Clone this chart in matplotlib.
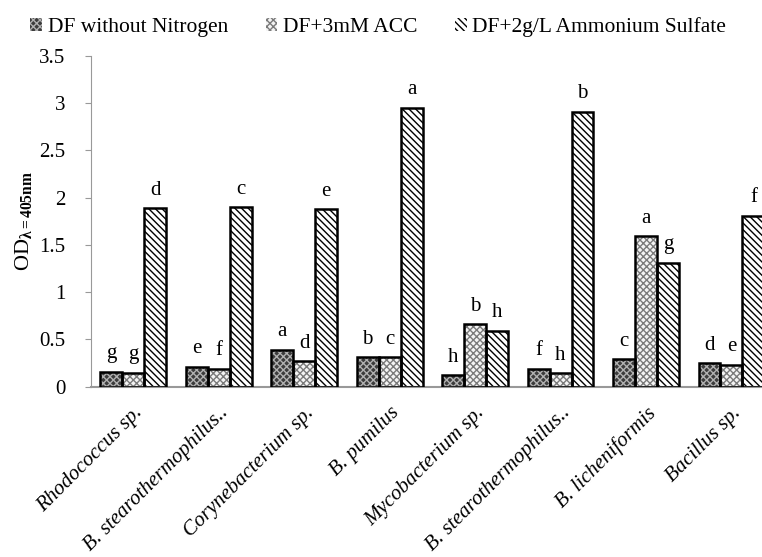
import numpy as np
import matplotlib as mpl
mpl.use('Agg')
from matplotlib import pyplot as plt
from matplotlib.patches import Patch
import matplotlib.transforms as mtransforms

# data
strains = ['Rhodococcus sp.', 'B. stearothermophilus..', 'Corynebacterium sp.', 'B. pumilus',
           'Mycobacterium sp.', 'B. stearothermophilus..', 'B. licheniformis', 'Bacillus sp.']
no_nitrogen = [0.16, 0.21, 0.39, 0.31, 0.12, 0.19, 0.29, 0.25]
acc = [0.15, 0.19, 0.27, 0.31, 0.66, 0.14, 1.59, 0.23]
ammonium = [1.89, 1.90, 1.88, 2.95, 0.59, 2.91, 1.31, 1.81]
letters_no_nitrogen = ['g', 'e', 'a', 'b', 'h', 'f', 'c', 'd']
letters_acc = ['g', 'f', 'd', 'c', 'b', 'h', 'a', 'e']
letters_ammonium = ['d', 'c', 'e', 'a', 'h', 'b', 'g', 'f']
series_names = ['DF without Nitrogen', 'DF+3mM ACC', 'DF+2g/L Ammonium Sulfate']

plt.rcParams['font.family'] = ['Liberation Serif', 'DejaVu Serif']
plt.rcParams['mathtext.fontset'] = 'custom'
plt.rcParams['mathtext.rm'] = 'Liberation Serif'
plt.rcParams['mathtext.it'] = 'Liberation Serif:italic'
plt.rcParams['mathtext.bf'] = 'Liberation Serif:bold'
plt.rcParams['hatch.linewidth'] = 1.0

fig = plt.figure(figsize=(7.62, 5.57), dpi=100)
ax = fig.add_axes([0.1188, 0.3057, 0.8972, 0.5938])

x = np.arange(len(strains))
w = 0.257
styles = [
    dict(face='#3c3c3c', hatch='xxxxx', hcolor='#b0b0b0'),
    dict(face='#f4f4f4', hatch='xxxxx', hcolor='#7a7a7a'),
    dict(face='white', hatch='\\\\\\\\\\', hcolor='black'),
]
all_vals = [no_nitrogen, acc, ammonium]
all_letters = [letters_no_nitrogen, letters_acc, letters_ammonium]

handles = []
for k, (vals, st, lets) in enumerate(zip(all_vals, styles, all_letters)):
    pos = x + (k - 1) * w
    ax.bar(pos, vals, w, color=st['face'], hatch=st['hatch'], edgecolor=st['hcolor'],
           linewidth=0, zorder=2)
    ax.bar(pos, vals, w, fill=False, edgecolor='black', linewidth=1.8, zorder=3)
    for p, v, t in zip(pos, vals, lets):
        ax.text(p, v + 0.09, t, ha='center', va='bottom', fontsize=15)
    handles.append(Patch(facecolor=st['face'], hatch=st['hatch'], edgecolor=st['hcolor'],
                         linewidth=0))

ax.set_xlim(-0.5, len(strains) - 0.5)
ax.set_ylim(0, 3.5)
ax.set_yticks(np.arange(0, 3.51, 0.5))
ax.set_yticklabels(['0', '0.5', '1', '1.5', '2', '2.5', '3', '3.5'], fontsize=15)
ax.set_xticks(x)
ax.set_xticklabels(strains, rotation=45, ha='right', va='top', rotation_mode='anchor',
                   fontsize=15, style='italic')
shift = mtransforms.ScaledTranslation(10 / 72, 0, fig.dpi_scale_trans)
for lab in ax.get_xticklabels():
    lab.set_transform(lab.get_transform() + shift)
ax.tick_params(axis='x', length=0, pad=12)
ax.tick_params(axis='y', length=4, color='#999999', pad=14)
for s in ['top', 'right']:
    ax.spines[s].set_visible(False)
ax.spines['left'].set_color('#999999')
ax.spines['bottom'].set_color('#999999')
ax.spines['bottom'].set_linewidth(1.5)

ax.set_ylabel(r'OD$_{\mathbf{\lambda=405nm}}$', fontsize=16, labelpad=4)

fig.legend(handles, series_names, ncol=3, loc='center left', bbox_to_anchor=(0.04, 0.952),
           frameon=False, fontsize=15.5, handlelength=0.55, handleheight=0.55,
           handletextpad=0.25, columnspacing=1.75, borderaxespad=0, borderpad=0)

fig.savefig('out.png', dpi=100)
